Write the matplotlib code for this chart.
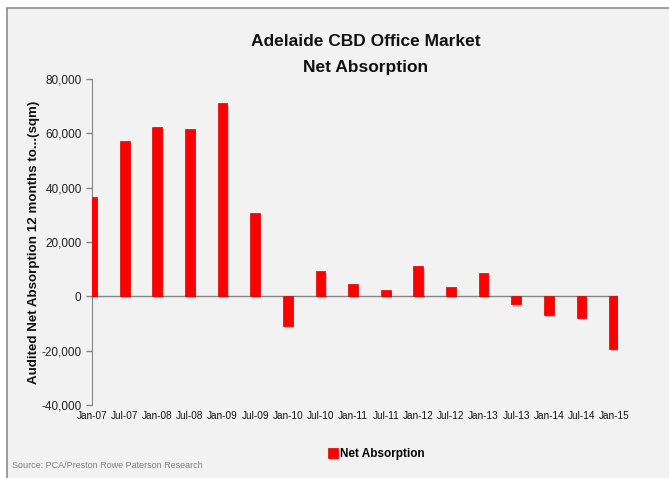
import matplotlib
matplotlib.use("Agg")
import matplotlib.pyplot as plt
import matplotlib.patheffects as pe
from matplotlib.patches import Rectangle

categories = ["Jan-07", "Jul-07", "Jan-08", "Jul-08", "Jan-09", "Jul-09", "Jan-10", "Jul-10",
              "Jan-11", "Jul-11", "Jan-12", "Jul-12", "Jan-13", "Jul-13", "Jan-14", "Jul-14", "Jan-15"]
net_absorption = [36400, 57000, 62500, 61500, 71000, 30500, -11000, 9500,
                  4500, 2500, 11000, 3500, 8500, -3000, -7000, -8000, -19500]
yticks = [-40000, -20000, 0, 20000, 40000, 60000, 80000]

plt.rcParams['font.family'] = ['Liberation Sans', 'DejaVu Sans']

W, H = 669, 478
fig = plt.figure(figsize=(W / 100, H / 100), dpi=100)
fig.patch.set_facecolor('white')
fig.patches.append(Rectangle((7 / W, -0.1), 2, (H - 8) / H + 0.1, transform=fig.transFigure,
                             facecolor='#f2f2f2', edgecolor='#8c8c8c', lw=1.2, zorder=-10))

ax = fig.add_axes([92 / W, 1 - 405 / H, (618 - 92) / W, (405 - 79) / H])
ax.set_facecolor('none')

x = list(range(len(categories)))
bars = ax.bar(x, net_absorption, width=0.3, color='#ff0000', edgecolor='#e00000', lw=0.5,
              label='Net Absorption', zorder=3)
for b in bars:
    b.set_path_effects([pe.SimplePatchShadow(offset=(1.0, -1.5), shadow_rgbFace='#000000', alpha=0.22),
                        pe.Normal()])

ax.axhline(0, color='#868686', lw=1, zorder=2)
ax.set_xlim(0, 16.12)
ax.set_ylim(-40000, 80000)
ax.set_yticks(yticks)
ax.set_yticklabels([f"{v:,}" for v in yticks], fontsize=8.5, color='#222222')
ax.set_xticks(x)
ax.set_xticklabels(categories, fontsize=7.2, color='#111111')
ax.tick_params(axis='x', length=0, pad=4)
ax.tick_params(axis='y', length=4, color='#868686', width=1)
for s in ['top', 'right', 'bottom']:
    ax.spines[s].set_visible(False)
ax.spines['left'].set_color('#868686')

ax.set_ylabel("Audited Net Absorption 12 months to...(sqm)", fontsize=9.6, fontweight='bold',
              color='#111111', labelpad=1)

fig.text(366 / W, 1 - 42 / H, "Adelaide CBD Office Market", ha='center', va='center',
         fontsize=12.5, fontweight='bold', color='#111111')
fig.text(366 / W, 1 - 67 / H, "Net Absorption", ha='center', va='center',
         fontsize=12.5, fontweight='bold', color='#111111')

leg = fig.legend(handles=[bars], labels=['Net Absorption'], loc='center',
                 bbox_to_anchor=(376 / W, 1 - 454 / H), frameon=False,
                 handlelength=0.9, handleheight=0.9, handletextpad=0.1,
                 prop={'weight': 'bold', 'size': 8.5})

fig.text(12 / W, 1 - 465 / H, "Source: PCA/Preston Rowe Paterson Research", ha='left', va='center',
         fontsize=6.5, color='#7f7f7f')

fig.savefig("out.png", dpi=100, facecolor=fig.get_facecolor())
